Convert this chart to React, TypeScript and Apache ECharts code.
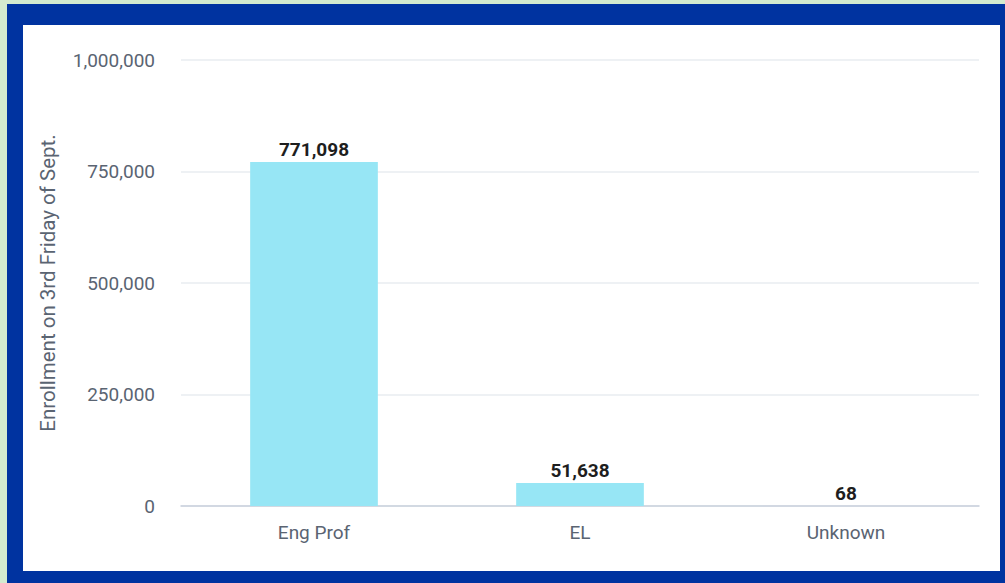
import React, { useEffect, useRef } from "react";
import * as echarts from "echarts";

const categories = ["Eng Prof", "EL", "Unknown"];
const enrollment = [771098, 51638, 68];
const yTicks = { min: 0, max: 1000000, interval: 250000 };

export default function App() {
  const ref = useRef<HTMLDivElement>(null);
  useEffect(() => {
    const chart = echarts.init(ref.current!, null, { renderer: "svg" });
    chart.setOption({
      animation: false,
      textStyle: { fontFamily: "Roboto" },
      grid: { left: 158, right: 21, top: 35, bottom: 65 },
      xAxis: {
        type: "category",
        data: categories,
        axisLine: { lineStyle: { color: "#c9d0dc", width: 1.5 } },
        axisTick: { show: false },
        axisLabel: { color: "#5a6472", fontSize: 19, margin: 17 },
      },
      yAxis: {
        type: "value",
        min: yTicks.min,
        max: yTicks.max,
        interval: yTicks.interval,
        name: "Enrollment on 3rd Friday of Sept.",
        nameLocation: "middle",
        nameGap: 123,
        nameTextStyle: { color: "#5a6472", fontSize: 20.5 },
        axisLabel: {
          color: "#5a6472",
          fontSize: 19,
          margin: 26,
          formatter: (v: number) => v.toLocaleString("en-US"),
        },
        splitLine: { lineStyle: { color: "#e9ecf0", width: 1.5 } },
        axisLine: { show: false },
        axisTick: { show: false },
      },
      series: [
        {
          type: "bar",
          data: enrollment,
          barWidth: "48%",
          itemStyle: { color: "#97e6f5" },
          label: {
            show: true,
            position: "top",
            distance: 3,
            color: "#1e1e1e",
            fontWeight: "bold",
            fontSize: 19,
            formatter: (p: any) => Number(p.value).toLocaleString("en-US"),
          },
        },
      ],
    });
    return () => chart.dispose();
  }, []);

  return (
    <div style={{ position: "fixed", left: 0, top: 0, width: 1005, height: 583, background: "#d3ebcf" }}>
      <div style={{ position: "absolute", left: 7, top: 4, right: 0, bottom: 0, background: "#0033a0" }} />
      <div style={{ position: "absolute", left: 23, top: 25, width: 977, height: 546, background: "#ffffff" }}>
        <div ref={ref} style={{ width: 977, height: 546 }} />
      </div>
    </div>
  );
}
